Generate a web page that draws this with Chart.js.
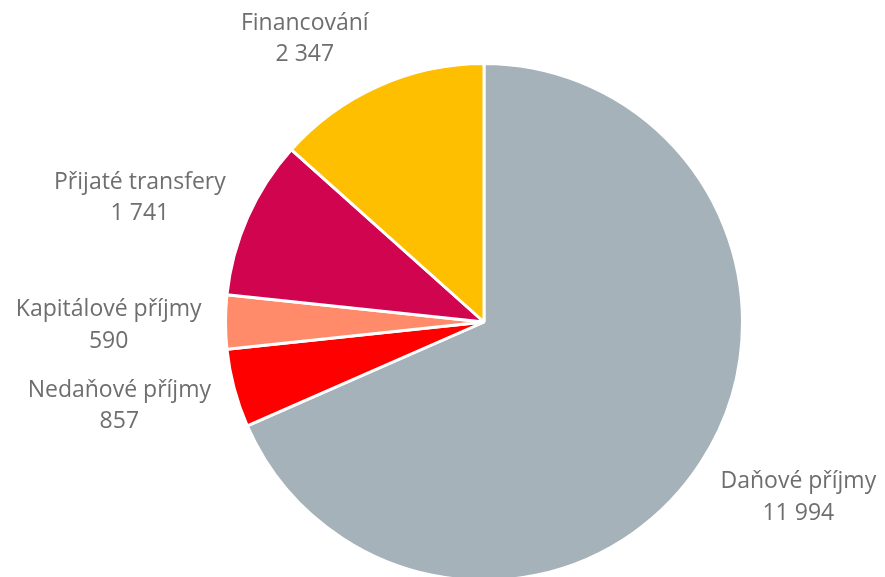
<!DOCTYPE html>
<html>
<head>
<meta charset="utf-8">
<script src="https://cdn.jsdelivr.net/npm/chart.js@4"></script>
<style>
html,body{margin:0;padding:0;background:#fff;overflow:hidden;}
#wrap{position:relative;width:885px;height:582px;}
</style>
</head>
<body>
<div id="wrap"><canvas id="c"></canvas></div>
<script>
const categories = ["Daňové příjmy", "Nedaňové příjmy", "Kapitálové příjmy", "Přijaté transfery", "Financování"];
const values = [11994, 857, 590, 1741, 2347];
const colors = ["#A5B2B9", "#FF0000", "#FF8B6B", "#D1044F", "#FDBF00"];

function fmt(v){
  return String(v).replace(/\B(?=(\d{3})+(?!\d))/g, " ");
}

const FONT = '23px "Open Sans"';
const LINE_H = 31.5;

const labelPlugin = {
  id: 'outLabels',
  afterDatasetsDraw(chart){
    const ctx = chart.ctx;
    const meta = chart.getDatasetMeta(0);
    ctx.save();
    ctx.font = FONT;
    ctx.fillStyle = '#6E6E6E';
    ctx.textAlign = 'center';
    ctx.textBaseline = 'middle';
    meta.data.forEach((arc, i) => {
      const p = arc.getProps(['x','y','startAngle','endAngle','outerRadius'], true);
      const mid = (p.startAngle + p.endAngle) / 2;
      const ux = Math.cos(mid), uy = Math.sin(mid);
      const ax = p.x + ux * (p.outerRadius + 24);
      const ay = p.y + uy * (p.outerRadius + 24);
      const lines = [categories[i], fmt(values[i])];
      const w = Math.max(...lines.map(l => ctx.measureText(l).width));
      const h = LINE_H * lines.length;
      const cx = ux >= 0 ? ax + w / 2 : ax - w / 2;
      const cy = ay + uy * h / 2 + 3.5;
      lines.forEach((l, k) => {
        ctx.fillText(l, cx, cy - h / 2 + LINE_H * (k + 0.5));
      });
    });
    ctx.restore();
  }
};

new Chart(document.getElementById('c'), {
  type: 'pie',
  data: {
    labels: categories,
    datasets: [{
      data: values,
      backgroundColor: colors,
      borderColor: '#FFFFFF',
      borderWidth: 3,
      hoverOffset: 0
    }]
  },
  options: {
    responsive: true,
    maintainAspectRatio: false,
    animation: false,
    events: [],
    layout: { padding: { top: 62, bottom: 0, left: 224, right: 141 } },
    plugins: {
      legend: { display: false },
      tooltip: { enabled: false }
    }
  },
  plugins: [labelPlugin]
});
</script>
</body>
</html>
